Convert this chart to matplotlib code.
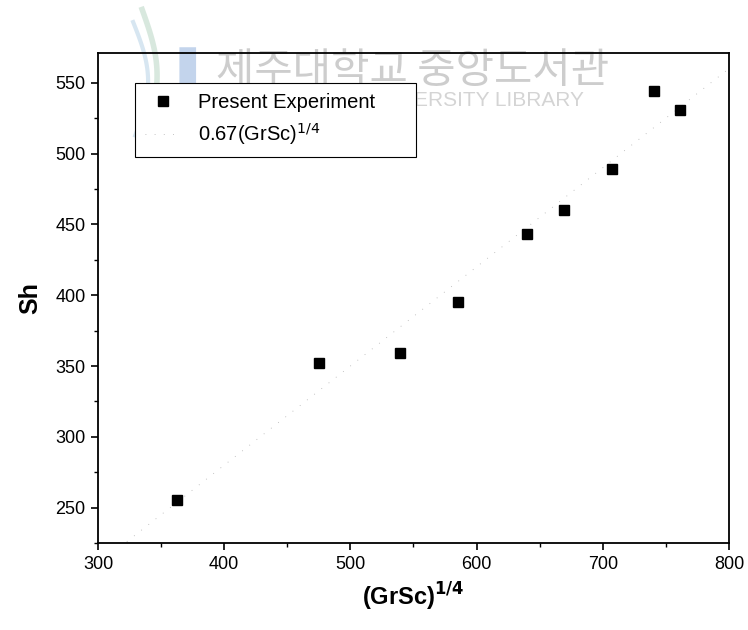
import matplotlib
matplotlib.use("Agg")
import matplotlib.pyplot as plt
from matplotlib.ticker import MultipleLocator
import numpy as np

plt.rcParams['font.family'] = ['Liberation Sans', 'DejaVu Sans']

# Data
x_exp = [362.6, 475.1, 539.3, 585.3, 639.7, 669.3, 707.3, 740.6, 761.2]
sh_exp = [255.6, 352.3, 359.4, 395.4, 443.2, 460.1, 489.3, 544.3, 530.9]
line_coef = 0.70
line_x = [300, 800]

xticks = [300, 400, 500, 600, 700, 800]
yticks = [250, 300, 350, 400, 450, 500, 550]

fig = plt.figure(figsize=(7.48, 6.30), dpi=100)
ax = fig.add_axes([0.131, 0.138, 0.9746 - 0.131, 0.9159 - 0.138])

lx = np.array(line_x, dtype=float)
line, = ax.plot(lx, line_coef * lx, linestyle=(0, (1, 10)), color='#b0b0b0',
                linewidth=0.6, label='0.67(GrSc)$^{1/4}$')
pts, = ax.plot(x_exp, sh_exp, linestyle='none', marker='s', markersize=6.5,
               color='black', label='Present Experiment', zorder=4)

ax.set_xlim(300, 800)
ax.set_ylim(225, 571)
ax.set_xticks(xticks)
ax.set_yticks(yticks)
ax.xaxis.set_minor_locator(MultipleLocator(50))
ax.yaxis.set_minor_locator(MultipleLocator(25))
ax.tick_params(which='major', direction='out', length=5, width=1.2,
               labelsize=13, top=False, right=False, pad=4)
ax.tick_params(which='minor', direction='out', length=3, width=1.0,
               top=False, right=False)
for s in ax.spines.values():
    s.set_linewidth(1.3)

ax.set_xlabel('(GrSc)$^{\\mathbf{1/4}}$', fontsize=17, fontweight='bold', labelpad=6)
ax.set_ylabel('Sh', fontsize=18, fontweight='bold', labelpad=9)

# Library watermark (drawn under the legend)
ax.text(0.289, 0.886, '제주대학교 중앙도서관', fontsize=30,
        family=['Noto Sans CJK KR', 'DejaVu Sans'], color='#cdcdcd',
        va='center', ha='left', transform=fig.transFigure, clip_on=False, zorder=1)
ax.text(0.268, 0.840, 'JEJU NATIONAL UNIVERSITY LIBRARY', fontsize=15,
        color='#d4d4d4', va='center', ha='left',
        transform=fig.transFigure, clip_on=False, zorder=1)
t = np.linspace(0, 1, 50)
jx = np.concatenate([np.full(20, 0.251), 0.251 - 0.035 * (1 - np.cos(t[:30] * np.pi / 2))])
jy = np.concatenate([np.linspace(0.925, 0.80, 20), 0.80 - 0.04 * np.sin(t[:30] * np.pi / 2)])
ax.plot(jx, jy, color='#c3d4ec', linewidth=12, transform=fig.transFigure,
        clip_on=False, zorder=1, solid_capstyle='butt')
ax.plot(0.19 + 0.02 * np.sin(t * 3.0), 0.985 - 0.2 * t, color='#cfe3d6',
        linewidth=4, alpha=0.8, transform=fig.transFigure, clip_on=False, zorder=1)
ax.plot(0.178 + 0.02 * np.sin(t * 3.0), 0.965 - 0.18 * t, color='#cde0ee',
        linewidth=3, alpha=0.8, transform=fig.transFigure, clip_on=False, zorder=1)

leg = ax.legend(handles=[pts, line], loc='upper left',
                bbox_to_anchor=((135 - 98) / 631, (543 - 83) / 490,
                                (416 - 135) / 631, 0.0),
                mode='expand',
                fontsize=14.5, frameon=True, fancybox=False, edgecolor='black',
                framealpha=1, facecolor='white',
                borderpad=0.5, handlelength=1.8, handletextpad=0.85,
                labelspacing=0.45, borderaxespad=0)
leg.get_frame().set_linewidth(0.8)
leg.set_zorder(6)

fig.savefig('out.png', dpi=100)
